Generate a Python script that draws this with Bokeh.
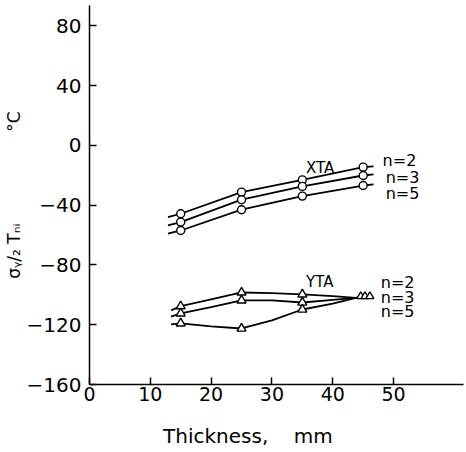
from bokeh.plotting import figure
from bokeh.models import Label, Range1d, FixedTicker
from bokeh.embed import file_html
from bokeh.resources import INLINE

# ---- data ----
thickness = [15, 25, 35, 45]
xta_n2 = [-45.7, -31.2, -23.0, -14.5]
xta_n3 = [-51.3, -36.3, -27.4, -20.1]
xta_n5 = [-56.9, -43.0, -33.9, -26.8]
xta_line_x = [12.9, 15, 25, 35, 45, 46.7]
xta_n2_line = [-48.0, -45.7, -31.2, -23.0, -14.5, -14.0]
xta_n3_line = [-53.5, -51.3, -36.3, -27.4, -20.1, -19.4]
xta_n5_line = [-59.0, -56.9, -43.0, -33.9, -26.8, -26.1]

yta_x = [15, 25, 35]
yta_n2 = [-107.6, -98.4, -99.7]
yta_n3 = [-112.4, -103.7, -105.1]
yta_n5 = [-119.1, -122.5, -109.8]
yta_end_x = [44.6, 45.3, 46.1]
yta_end_y = [-101.0, -101.0, -101.0]
yta_line_x = [13.4, 15, 20, 25, 30, 35, 40, 43.8, 46.1]
yta_n2_line = [-110.4, -107.6, -103.0, -98.4, -98.8, -99.7, -100.8, -102.0, -101.0]
yta_n3_line = [-114.5, -112.4, -108.2, -103.7, -103.7, -105.1, -103.3, -102.0, -101.0]
yta_n5_line = [-119.8, -119.1, -121.1, -122.5, -117.1, -109.8, -105.8, -102.0, -101.0]

x_ticks = [0, 10, 20, 30, 40, 50]
y_ticks = [-160, -120, -80, -40, 0, 40, 80]

NB = "\u00a0"
x_title = "Thickness," + NB * 4 + "mm" + NB * 9
y_title = "σᵧ/₂" + NB + "Tₙᵢ" + NB * 17 + "°C"

FONT = "DejaVu Sans"

p = figure(width=466, height=452, output_backend="svg", toolbar_location=None,
           x_range=Range1d(0, 61.5), y_range=Range1d(-160, 93.7),
           min_border_left=88, min_border_right=3, min_border_top=5, min_border_bottom=68)
p.outline_line_color = None
p.xgrid.visible = False
p.ygrid.visible = False
p.background_fill_color = "white"
p.border_fill_color = "white"

for ax, ticks, fs, so in ((p.xaxis, x_ticks, "19px", 2), (p.yaxis, y_ticks, "20px", 8)):
    ax.ticker = FixedTicker(ticks=ticks)
    ax.major_tick_in = 7
    ax.major_tick_out = 0
    ax.minor_tick_in = 0
    ax.minor_tick_out = 0
    ax.axis_line_width = 1.5
    ax.major_tick_line_width = 1.5
    ax.axis_line_color = "black"
    ax.major_tick_line_color = "black"
    ax.major_label_text_font = FONT
    ax.major_label_text_font_size = fs
    ax.major_label_text_color = "black"
    ax.major_label_standoff = so
    ax.axis_label_text_font = FONT
    ax.axis_label_text_font_style = "normal"
    ax.axis_label_text_color = "black"

p.xaxis.axis_label = x_title
p.xaxis.axis_label_text_font_size = "20px"
p.xaxis.axis_label_standoff = 20
p.yaxis.axis_label = y_title
p.yaxis.axis_label_text_font_size = "17px"
p.yaxis.axis_label_standoff = 0

# lines
for ys in (xta_n2_line, xta_n3_line, xta_n5_line):
    p.line(xta_line_x, ys, line_color="black", line_width=1.8)
for ys in (yta_n2_line, yta_n3_line, yta_n5_line):
    p.line(yta_line_x, ys, line_color="black", line_width=1.8)

# markers
for ys in (xta_n2, xta_n3, xta_n5):
    p.scatter(thickness, ys, marker="circle", size=8, fill_color="white",
              line_color="black", line_width=1.4)
for ys in (yta_n2, yta_n3, yta_n5):
    p.scatter(yta_x, ys, marker="triangle", size=9, fill_color="white",
              line_color="black", line_width=1.4)
p.scatter(yta_end_x, yta_end_y, marker="triangle", size=8, fill_color="white",
          line_color="black", line_width=1.4)

def lab(text, x, y, size, baseline="middle"):
    p.add_layout(Label(x=x, y=y, text=text, text_font=FONT, text_font_size=size,
                       text_align="left", text_baseline=baseline, text_color="black"))

# series labels
lab("XTA", 35.6, -15.4, "15px", baseline="alphabetic")
lab("n=2", 48.2, -10.0, "16px")
lab("n=3", 48.7, -21.4, "16px")
lab("n=5", 48.7, -32.1, "16px")
lab("YTA", 35.6, -91.7, "15px")
lab("n=2", 47.9, -91.7, "16px")
lab("n=3", 47.9, -101.7, "16px")
lab("n=5", 47.9, -111.0, "16px")

open("out.html", "w").write(file_html(p, INLINE))
